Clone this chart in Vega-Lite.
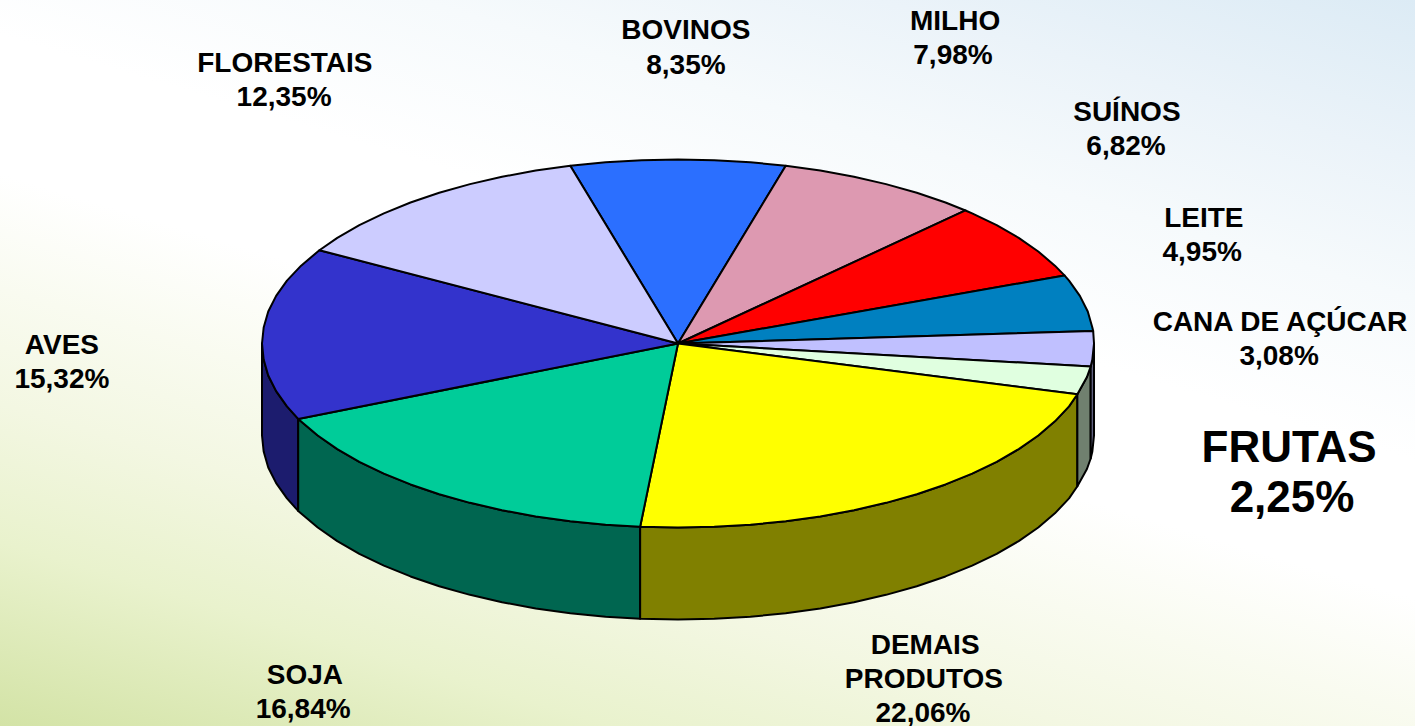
{"$schema":"https://vega.github.io/schema/vega-lite/v6.json","width":1415,"height":726,"padding":0,"autosize":{"type":"none"},"config":{"view":{"stroke":null}},
"resolve":{"scale":{"fill":"independent"}},
"datasets":{
"top":[
{"s":"BOVINOS","o":0,"x":0,"y":0},{"s":"BOVINOS","o":1,"x":-25.9,"y":96.6},{"s":"BOVINOS","o":2,"x":-17.4,"y":98.5},{"s":"BOVINOS","o":3,"x":-8.7,"y":99.6},{"s":"BOVINOS","o":4,"x":0,"y":100},{"s":"BOVINOS","o":5,"x":8.7,"y":99.6},{"s":"BOVINOS","o":6,"x":17.4,"y":98.5},{"s":"BOVINOS","o":7,"x":25.9,"y":96.6},{"s":"BOVINOS","o":8,"x":0,"y":0},
{"s":"MILHO","o":0,"x":0,"y":0},{"s":"MILHO","o":1,"x":25.9,"y":96.6},{"s":"MILHO","o":2,"x":34.2,"y":94},{"s":"MILHO","o":3,"x":42.3,"y":90.6},{"s":"MILHO","o":4,"x":50,"y":86.6},{"s":"MILHO","o":5,"x":57.4,"y":81.9},{"s":"MILHO","o":6,"x":64.3,"y":76.6},{"s":"MILHO","o":7,"x":69.1,"y":72.3},{"s":"MILHO","o":8,"x":0,"y":0},
{"s":"SUÍNOS","o":0,"x":0,"y":0},{"s":"SUÍNOS","o":1,"x":69.1,"y":72.3},{"s":"SUÍNOS","o":2,"x":70.7,"y":70.7},{"s":"SUÍNOS","o":3,"x":76.6,"y":64.3},{"s":"SUÍNOS","o":4,"x":81.9,"y":57.4},{"s":"SUÍNOS","o":5,"x":86.6,"y":50},{"s":"SUÍNOS","o":6,"x":90.6,"y":42.3},{"s":"SUÍNOS","o":7,"x":92.9,"y":37},{"s":"SUÍNOS","o":8,"x":0,"y":0},
{"s":"LEITE","o":0,"x":0,"y":0},{"s":"LEITE","o":1,"x":92.9,"y":37},{"s":"LEITE","o":2,"x":94,"y":34.2},{"s":"LEITE","o":3,"x":96.6,"y":25.9},{"s":"LEITE","o":4,"x":98.5,"y":17.4},{"s":"LEITE","o":5,"x":99.6,"y":8.7},{"s":"LEITE","o":6,"x":99.8,"y":6.8},{"s":"LEITE","o":7,"x":0,"y":0},
{"s":"CANA DE AÇÚCAR","o":0,"x":0,"y":0},{"s":"CANA DE AÇÚCAR","o":1,"x":99.8,"y":6.8},{"s":"CANA DE AÇÚCAR","o":2,"x":100,"y":0},{"s":"CANA DE AÇÚCAR","o":3,"x":99.6,"y":-8.7},{"s":"CANA DE AÇÚCAR","o":4,"x":99.2,"y":-12.5},{"s":"CANA DE AÇÚCAR","o":5,"x":0,"y":0},
{"s":"FRUTAS","o":0,"x":0,"y":0},{"s":"FRUTAS","o":1,"x":99.2,"y":-12.5},{"s":"FRUTAS","o":2,"x":98.3,"y":-18.2},{"s":"FRUTAS","o":3,"x":96,"y":-27.6},{"s":"FRUTAS","o":4,"x":0,"y":0},
{"s":"DEMAIS PRODUTOS","o":0,"x":0,"y":0},{"s":"DEMAIS PRODUTOS","o":1,"x":96,"y":-27.6},{"s":"DEMAIS PRODUTOS","o":2,"x":94,"y":-34.2},{"s":"DEMAIS PRODUTOS","o":3,"x":90.6,"y":-42.3},{"s":"DEMAIS PRODUTOS","o":4,"x":86.6,"y":-50},{"s":"DEMAIS PRODUTOS","o":5,"x":81.9,"y":-57.4},{"s":"DEMAIS PRODUTOS","o":6,"x":76.6,"y":-64.3},{"s":"DEMAIS PRODUTOS","o":7,"x":70.7,"y":-70.7},{"s":"DEMAIS PRODUTOS","o":8,"x":64.3,"y":-76.6},{"s":"DEMAIS PRODUTOS","o":9,"x":57.4,"y":-81.9},{"s":"DEMAIS PRODUTOS","o":10,"x":50,"y":-86.6},{"s":"DEMAIS PRODUTOS","o":11,"x":42.3,"y":-90.6},{"s":"DEMAIS PRODUTOS","o":12,"x":34.2,"y":-94},{"s":"DEMAIS PRODUTOS","o":13,"x":25.9,"y":-96.6},{"s":"DEMAIS PRODUTOS","o":14,"x":17.4,"y":-98.5},{"s":"DEMAIS PRODUTOS","o":15,"x":8.7,"y":-99.6},{"s":"DEMAIS PRODUTOS","o":16,"x":0,"y":-100},{"s":"DEMAIS PRODUTOS","o":17,"x":-9.1,"y":-99.6},{"s":"DEMAIS PRODUTOS","o":18,"x":0,"y":0},
{"s":"SOJA","o":0,"x":0,"y":0},{"s":"SOJA","o":1,"x":-9.1,"y":-99.6},{"s":"SOJA","o":2,"x":-17.4,"y":-98.5},{"s":"SOJA","o":3,"x":-25.9,"y":-96.6},{"s":"SOJA","o":4,"x":-34.2,"y":-94},{"s":"SOJA","o":5,"x":-42.3,"y":-90.6},{"s":"SOJA","o":6,"x":-50,"y":-86.6},{"s":"SOJA","o":7,"x":-57.4,"y":-81.9},{"s":"SOJA","o":8,"x":-64.3,"y":-76.6},{"s":"SOJA","o":9,"x":-70.7,"y":-70.7},{"s":"SOJA","o":10,"x":-76.6,"y":-64.3},{"s":"SOJA","o":11,"x":-81.9,"y":-57.4},{"s":"SOJA","o":12,"x":-86.6,"y":-50},{"s":"SOJA","o":13,"x":-91.3,"y":-41},{"s":"SOJA","o":14,"x":0,"y":0},
{"s":"AVES","o":0,"x":0,"y":0},{"s":"AVES","o":1,"x":-91.3,"y":-41},{"s":"AVES","o":2,"x":-94,"y":-34.2},{"s":"AVES","o":3,"x":-96.6,"y":-25.9},{"s":"AVES","o":4,"x":-98.5,"y":-17.4},{"s":"AVES","o":5,"x":-99.6,"y":-8.7},{"s":"AVES","o":6,"x":-100,"y":0},{"s":"AVES","o":7,"x":-99.6,"y":8.7},{"s":"AVES","o":8,"x":-98.5,"y":17.4},{"s":"AVES","o":9,"x":-96.6,"y":25.9},{"s":"AVES","o":10,"x":-94,"y":34.2},{"s":"AVES","o":11,"x":-90.6,"y":42.3},{"s":"AVES","o":12,"x":-86.2,"y":50.7},{"s":"AVES","o":13,"x":0,"y":0},
{"s":"FLORESTAIS","o":0,"x":0,"y":0},{"s":"FLORESTAIS","o":1,"x":-86.2,"y":50.7},{"s":"FLORESTAIS","o":2,"x":-81.9,"y":57.4},{"s":"FLORESTAIS","o":3,"x":-76.6,"y":64.3},{"s":"FLORESTAIS","o":4,"x":-70.7,"y":70.7},{"s":"FLORESTAIS","o":5,"x":-64.3,"y":76.6},{"s":"FLORESTAIS","o":6,"x":-57.4,"y":81.9},{"s":"FLORESTAIS","o":7,"x":-50,"y":86.6},{"s":"FLORESTAIS","o":8,"x":-42.3,"y":90.6},{"s":"FLORESTAIS","o":9,"x":-34.2,"y":94},{"s":"FLORESTAIS","o":10,"x":-25.9,"y":96.6},{"s":"FLORESTAIS","o":11,"x":0,"y":0}
],
"side":[
{"s":"AVES","x":-100,"y":0,"b":-50},{"s":"AVES","x":-99.6,"y":-8.7,"b":-58.7},{"s":"AVES","x":-98.5,"y":-17.4,"b":-67.4},{"s":"AVES","x":-96.6,"y":-25.9,"b":-75.9},{"s":"AVES","x":-94,"y":-34.2,"b":-84.2},{"s":"AVES","x":-91.3,"y":-41,"b":-91},
{"s":"SOJA","x":-91.3,"y":-41,"b":-91},{"s":"SOJA","x":-86.6,"y":-50,"b":-100},{"s":"SOJA","x":-81.9,"y":-57.4,"b":-107.4},{"s":"SOJA","x":-76.6,"y":-64.3,"b":-114.3},{"s":"SOJA","x":-70.7,"y":-70.7,"b":-120.7},{"s":"SOJA","x":-64.3,"y":-76.6,"b":-126.6},{"s":"SOJA","x":-57.4,"y":-81.9,"b":-131.9},{"s":"SOJA","x":-50,"y":-86.6,"b":-136.6},{"s":"SOJA","x":-42.3,"y":-90.6,"b":-140.6},{"s":"SOJA","x":-34.2,"y":-94,"b":-144},{"s":"SOJA","x":-25.9,"y":-96.6,"b":-146.6},{"s":"SOJA","x":-17.4,"y":-98.5,"b":-148.5},{"s":"SOJA","x":-9.1,"y":-99.6,"b":-149.6},
{"s":"DEMAIS PRODUTOS","x":-9.1,"y":-99.6,"b":-149.6},{"s":"DEMAIS PRODUTOS","x":0,"y":-100,"b":-150},{"s":"DEMAIS PRODUTOS","x":8.7,"y":-99.6,"b":-149.6},{"s":"DEMAIS PRODUTOS","x":17.4,"y":-98.5,"b":-148.5},{"s":"DEMAIS PRODUTOS","x":25.9,"y":-96.6,"b":-146.6},{"s":"DEMAIS PRODUTOS","x":34.2,"y":-94,"b":-144},{"s":"DEMAIS PRODUTOS","x":42.3,"y":-90.6,"b":-140.6},{"s":"DEMAIS PRODUTOS","x":50,"y":-86.6,"b":-136.6},{"s":"DEMAIS PRODUTOS","x":57.4,"y":-81.9,"b":-131.9},{"s":"DEMAIS PRODUTOS","x":64.3,"y":-76.6,"b":-126.6},{"s":"DEMAIS PRODUTOS","x":70.7,"y":-70.7,"b":-120.7},{"s":"DEMAIS PRODUTOS","x":76.6,"y":-64.3,"b":-114.3},{"s":"DEMAIS PRODUTOS","x":81.9,"y":-57.4,"b":-107.4},{"s":"DEMAIS PRODUTOS","x":86.6,"y":-50,"b":-100},{"s":"DEMAIS PRODUTOS","x":90.6,"y":-42.3,"b":-92.3},{"s":"DEMAIS PRODUTOS","x":94,"y":-34.2,"b":-84.2},{"s":"DEMAIS PRODUTOS","x":96,"y":-27.6,"b":-77.6},
{"s":"FRUTAS","x":96,"y":-27.6,"b":-77.6},{"s":"FRUTAS","x":98.3,"y":-18.2,"b":-68.2},{"s":"FRUTAS","x":99.2,"y":-12.5,"b":-62.5},
{"s":"CANA DE AÇÚCAR","x":99.2,"y":-12.5,"b":-62.5},{"s":"CANA DE AÇÚCAR","x":99.6,"y":-8.7,"b":-58.7},{"s":"CANA DE AÇÚCAR","x":100,"y":0,"b":-50}
],
"labels":[
{"t":"FLORESTAIS","x":-94.5,"y":151.9},{"t":"12,35%","x":-94.7,"y":133.4},
{"t":"BOVINOS","x":1.9,"y":169.8},{"t":"8,35%","x":1.9,"y":150.8},
{"t":"MILHO","x":66.6,"y":174.7},{"t":"7,98%","x":66.1,"y":156.3},
{"t":"SUÍNOS","x":107.9,"y":125.3},{"t":"6,82%","x":107.7,"y":106.8},
{"t":"LEITE","x":126.4,"y":67.7},{"t":"4,95%","x":126,"y":49.2},
{"t":"CANA DE AÇÚCAR","x":144.7,"y":11.1},{"t":"3,08%","x":144.5,"y":-7.3},
{"t":"AVES","x":-148.1,"y":-1.4},{"t":"15,32%","x":-148.1,"y":-19.8},
{"t":"SOJA","x":-89.7,"y":-180.7},{"t":"16,84%","x":-90.1,"y":-199.2},
{"t":"DEMAIS","x":59.4,"y":-164.4},{"t":"PRODUTOS","x":59.1,"y":-182.9},{"t":"22,06%","x":58.9,"y":-201.4}
],
"callout":[{"t":"FRUTAS","x":146.9,"y":-57.3},{"t":"2,25%","x":147.6,"y":-84.5}]
},
"encoding":{"x":{"type":"quantitative","scale":{"domain":[-162.98,177.16],"nice":false,"zero":false},"axis":null},"y":{"type":"quantitative","scale":{"domain":[-207.88,186.68],"nice":false,"zero":false},"axis":null}},
"layer":[
{"data":{"values":[{}]},"mark":{"type":"rect","fill":{"gradient":"linear","x1":1,"y1":0,"x2":0.309,"y2":1.181,"stops":[{"offset":0,"color":"#dcebf5"},{"offset":0.14,"color":"#ebf3f9"},{"offset":0.26,"color":"#f6fafc"},{"offset":0.4,"color":"#ffffff"},{"offset":0.52,"color":"#ffffff"},{"offset":0.62,"color":"#f9fbf0"},{"offset":0.72,"color":"#f3f7e2"},{"offset":0.84,"color":"#e9f2cd"},{"offset":1,"color":"#d3e3a6"}]}},
"encoding":{"x":{"datum":-162.98},"x2":{"datum":177.16},"y":{"datum":186.68},"y2":{"datum":-207.88}}},
{"data":{"name":"side"},"mark":{"type":"area","stroke":"#000000","strokeWidth":2,"strokeJoin":"round","opacity":1},
"encoding":{"x":{"field":"x"},"y":{"field":"y"},"y2":{"field":"b"},"fill":{"field":"s","type":"nominal","legend":null,"scale":{"domain":["AVES","SOJA","DEMAIS PRODUTOS","FRUTAS","CANA DE AÇÚCAR"],"range":["#1c1c6e","#006650","#808000","#70806f","#606080"]}}}},
{"data":{"name":"top"},"mark":{"type":"line","stroke":"#000000","strokeWidth":2,"strokeJoin":"round"},
"encoding":{"x":{"field":"x"},"y":{"field":"y"},"order":{"field":"o","type":"quantitative"},"detail":{"field":"s","type":"nominal"},"fill":{"field":"s","type":"nominal","legend":null,"scale":{"domain":["BOVINOS","MILHO","SUÍNOS","LEITE","CANA DE AÇÚCAR","FRUTAS","DEMAIS PRODUTOS","SOJA","AVES","FLORESTAIS"],"range":["#2b6fff","#dd99b1","#ff0000","#0080c0","#c0c0ff","#e0ffe0","#ffff00","#00cc99","#3333cc","#ccccff"]}}}},
{"data":{"name":"labels"},"mark":{"type":"text","font":"Liberation Sans","fontWeight":"bold","fontSize":28,"align":"center","baseline":"middle","color":"#000000"},
"encoding":{"x":{"field":"x"},"y":{"field":"y"},"text":{"field":"t"}}},
{"data":{"name":"callout"},"mark":{"type":"text","font":"Liberation Sans","fontWeight":"bold","fontSize":44,"align":"center","baseline":"middle","color":"#000000"},
"encoding":{"x":{"field":"x"},"y":{"field":"y"},"text":{"field":"t"}}}
]}
